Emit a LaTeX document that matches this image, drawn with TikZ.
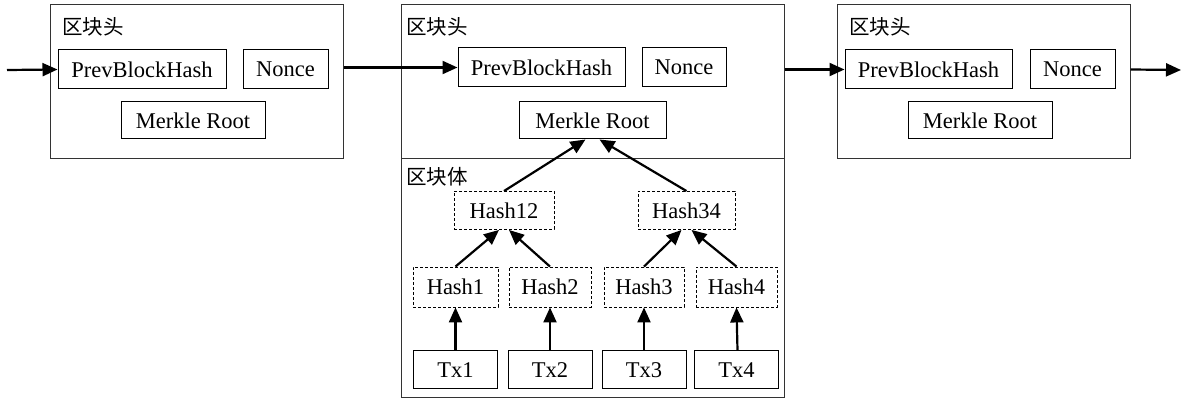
\documentclass[tikz,border=0pt]{standalone}
\usepackage{fontspec}
\setmainfont{Liberation Serif}
\newfontfamily\cjk{Noto Sans CJK SC}
\usetikzlibrary{arrows.meta}

\begin{document}
\begin{tikzpicture}[x=1pt,y=-1pt,font=\fontsize{22.5}{26}\selectfont,
  blk/.style={draw=black!80,line width=1pt,inner sep=0pt},
  fld/.style={draw,line width=1pt,inner sep=0pt,minimum height=39pt},
  hsh/.style={draw,line width=0.9pt,dash pattern=on 3pt off 2pt,inner sep=0pt,minimum height=38pt},
  tx/.style={draw,line width=1pt,inner sep=0pt,minimum width=84pt,minimum height=38pt},
  lbl/.style={anchor=west,inner sep=0pt,font=\cjk\fontsize{20.5}{24}\selectfont},
  arr/.style={line width=2.2pt,-{Triangle[length=15pt,width=13pt]}}]
\useasboundingbox (0,0) rectangle (1184,403);
\node (blkA) at (196.5,82) [blk,minimum width=293pt,minimum height=154pt]{};
\node (blkB) at (592.5,82) [blk,minimum width=383pt,minimum height=154pt]{};
\node (bodyB) at (592.5,278.5) [blk,minimum width=383pt,minimum height=239pt]{};
\node (blkC) at (983.5,82) [blk,minimum width=293pt,minimum height=154pt]{};
\node (headA) at (62,27) [lbl]{区块头};
\node (headB) at (406,27) [lbl]{区块头};
\node (headC) at (849,27) [lbl]{区块头};
\node (bodyL) at (406,177) [lbl]{区块体};
\node (prevA) at (142,69.5) [fld,minimum width=168pt]{PrevBlockHash};
\node (nonceA) at (285.5,69.5) [fld,minimum width=85pt]{Nonce};
\node (rootA) at (193,120.5) [fld,minimum width=144pt,minimum height=37pt]{Merkle Root};
\node (prevB) at (541.5,67.5) [fld,minimum width=167pt]{PrevBlockHash};
\node (nonceB) at (684,67.5) [fld,minimum width=84pt]{Nonce};
\node (rootB) at (592.5,120.5) [fld,minimum width=147pt,minimum height=37pt]{Merkle Root};
\node (prevC) at (928.5,69.5) [fld,minimum width=167pt]{PrevBlockHash};
\node (nonceC) at (1072.5,69.5) [fld,minimum width=85pt]{Nonce};
\node (rootC) at (980,120.5) [fld,minimum width=144pt,minimum height=37pt]{Merkle Root};
\node (h12) at (504,210.5) [hsh,minimum width=100pt]{Hash12};
\node (h34) at (686.5,210.5) [hsh,minimum width=97pt]{Hash34};
\node (h1) at (455.5,287) [hsh,minimum width=85pt,minimum height=40pt]{Hash1};
\node (h2) at (550,287) [hsh,minimum width=82pt,minimum height=40pt]{Hash2};
\node (h3) at (644,287) [hsh,minimum width=80pt,minimum height=40pt]{Hash3};
\node (h4) at (736.5,287) [hsh,minimum width=81pt,minimum height=40pt]{Hash4};
\node (tx1) at (455.5,370) [tx]{Tx1};
\node (tx2) at (550,370) [tx]{Tx2};
\node (tx3) at (644,370) [tx]{Tx3};
\node (tx4) at (736.5,370) [tx]{Tx4};
\coordinate (in) at (7,70);
\coordinate (out) at (1181,70);
\draw[arr] (in)--(prevA.west);
\draw[arr] (blkA.east |- prevB.west)--(prevB.west);
\draw[arr] (blkB.east |- prevC.west)--(prevC.west);
\draw[arr] (blkC.east |- nonceC.east)--(out);
\draw[arr] (h12.north)--([xshift=-7pt]rootB.south);
\draw[arr] (h34.north)--([xshift=7pt]rootB.south);
\draw[arr] (h1.north)--([xshift=-5pt]h12.south);
\draw[arr] (h2.north)--([xshift=5pt]h12.south);
\draw[arr] (h3.north)--([xshift=-5pt]h34.south);
\draw[arr] (h4.north)--([xshift=5pt]h34.south);
\draw[arr] (tx1)--(h1);
\draw[arr] (tx2)--(h2);
\draw[arr] (tx3)--(h3);
\draw[arr] ([xshift=1pt]tx4.north)--(h4.south);
\end{tikzpicture}
\end{document}
